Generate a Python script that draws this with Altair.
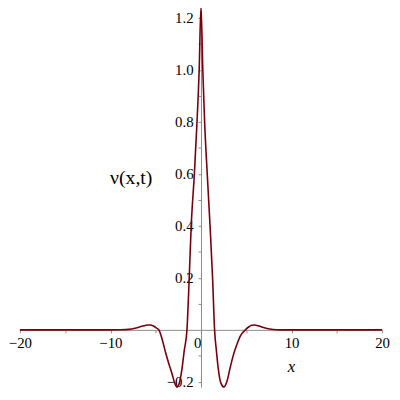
import altair as alt
import pandas as pd

# curve values
xs = [-20, -15, -12, -10, -9, -8, -7.3, -6.8, -6.3, -5.9, -5.6, -5.3, -5.0, -4.65,
      -4.3, -3.92, -3.55, -3.19, -2.9, -2.65, -2.4, -2.1, -1.85, -1.55,
      -1.3, -1.08, -0.73, -0.44, -0.2, 0.0, 0.2, 0.4, 0.69, 1.0, 1.28, 1.5,
      1.7, 1.91, 2.2, 2.54, 2.85, 3.19, 3.55, 3.92, 4.4, 4.9, 5.3, 5.6, 5.9,
      6.3, 6.8, 7.3, 8.0, 8.7, 10, 12, 15, 20]
ys = [0, 0, 0, 0, 0.0005, 0.002, 0.006, 0.011, 0.016, 0.019, 0.019, 0.016, 0.009, 0.0,
      -0.035, -0.086, -0.13, -0.17, -0.205, -0.22, -0.205, -0.15, -0.08, 0.0,
      0.2, 0.4, 0.6, 0.8, 1.0, 1.244, 1.0, 0.8, 0.6, 0.4, 0.2, 0.0,
      -0.08, -0.15, -0.205, -0.22, -0.2, -0.15, -0.1, -0.06, -0.02, 0.0, 0.012, 0.018, 0.019,
      0.016, 0.01, 0.005, 0.0015, 0.0, 0, 0, 0, 0]

x_ticks = [-20, -15, -10, -5, 0, 5, 10, 15, 20]
y_ticks = [-0.2, -0.1, 0.1, 0.2, 0.3, 0.4, 0.5, 0.6, 0.7, 0.8, 0.9, 1.0, 1.1, 1.2]

df = pd.DataFrame({"x": xs, "y": ys})

W, H = 366, 381
YMIN, YMAX = -0.22, 1.2305
y0_px = YMAX / (YMAX - YMIN) * H

FONT = "Liberation Serif"
AXIS_COLOR = "#8c8c8c"

xscale = alt.Scale(domain=[-20, 20], nice=False, zero=False)
yscale = alt.Scale(domain=[YMIN, YMAX], nice=False, zero=False)

xaxis = alt.Axis(
    values=x_ticks,
    labelExpr="datum.value == 0 ? '0\u2002' : ((datum.value % 10 != 0) ? '' : (datum.value < 0 ? '\u2212' + abs(datum.value) : '' + datum.value))",
    labelAlign={"condition": {"test": "datum.value == 0", "value": "right"}, "value": "center"},
    offset=-(H - y0_px),
    grid=False, domainColor=AXIS_COLOR, tickColor=AXIS_COLOR, tickSize=3,
    labelFont=FONT, labelFontSize=15, labelColor="#000000", labelPadding=3,
    title="x", titleFont=FONT, titleFontStyle="italic", titleFontWeight="normal",
    titleFontSize=17, titleColor="#000000",
    titleX=274, titleY=37, titleAlign="center", titleBaseline="middle",
    labelFlush=False, labelOverlap=False,
)
yaxis = alt.Axis(
    values=y_ticks,
    labelExpr="(round(datum.value*10) % 2 != 0) ? '' : replace(format(datum.value, '.1f'), '-', '\u2212')",
    offset=-(W / 2),
    grid=False, domainColor=AXIS_COLOR, tickColor=AXIS_COLOR, tickSize=3,
    labelFont=FONT, labelFontSize=15, labelColor="#000000", labelPadding=5,
    title="\u03bd(x,t)", titleFont=FONT, titleFontWeight="normal",
    titleFontSize=20, titleColor="#000000", titleAngle=0,
    titleX=-71, titleY=169, titleAlign="center", titleBaseline="middle",
    labelOverlap=False, labelFlush=False,
)

line = alt.Chart(df).mark_line(color="#78000E", strokeWidth=1.6, interpolate="monotone", clip=False).encode(
    x=alt.X("x:Q", scale=xscale, axis=xaxis),
    y=alt.Y("y:Q", scale=yscale, axis=yaxis),
)

chart = line.properties(
    width=W, height=H,
    background="white",
    autosize=alt.AutoSizeParams(type="none"),
    padding={"left": 12, "top": 0, "right": 10, "bottom": 4},
).configure_view(stroke=None)

chart.save("out.html", embed_options={"renderer": "svg", "actions": False})
